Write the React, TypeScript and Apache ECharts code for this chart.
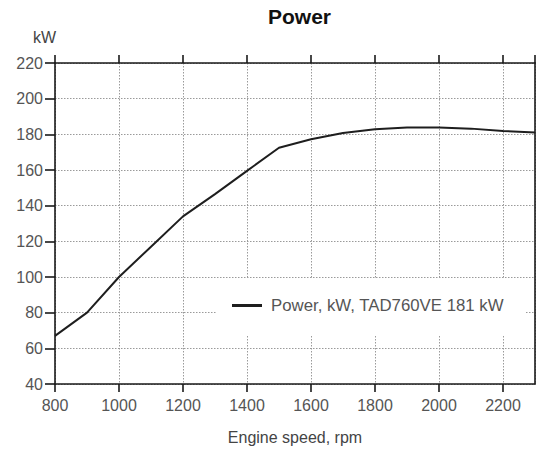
import React, { useEffect, useRef } from "react";
import * as echarts from "echarts";

const rpm = [800, 900, 1000, 1100, 1200, 1300, 1400, 1500, 1600, 1700, 1800, 1900, 2000, 2100, 2200, 2300];
const powerKw = [67, 80, 100, 117, 134, 146.5, 159.5, 172.5, 177.2, 180.8, 182.8, 183.9, 183.9, 183.2, 181.9, 181];
const seriesName = "Power, kW, TAD760VE 181 kW";
const titleText = "Power";
const xName = "Engine speed, rpm";
const yName = "kW";

const FONT = '"Liberation Sans", Arial, sans-serif';

export default function App() {
  const ref = useRef<HTMLDivElement>(null);
  useEffect(() => {
    if (!ref.current) return;
    const chart = echarts.init(ref.current, null, { renderer: "svg" });
    const axisLineStyle = { color: "#1a1a1a", width: 1.6 };
    const gridLine = { show: true, lineStyle: { color: "#9a9a9a", type: [1.5, 1.5] as any, width: 1 } };
    chart.setOption({
      animation: false,
      backgroundColor: "#ffffff",
      textStyle: { fontFamily: FONT },
      title: {
        text: titleText,
        left: 294.5,
        top: 1,
        textAlign: "center",
        textStyle: { fontFamily: FONT, fontSize: 21, fontWeight: "bold", color: "#111" },
      },
      grid: { left: 55, right: 1, top: 63, bottom: 68, containLabel: false },
      legend: {
        show: true,
        left: 217,
        top: 278,
        padding: [19, 22, 22, 15],
        backgroundColor: "#ffffff",
        itemWidth: 30,
        itemHeight: 3,
        data: [{ name: seriesName, icon: "rect" }],
        textStyle: { fontFamily: FONT, fontSize: 16.8, color: "#555", padding: [0, 0, 0, 4] },
        z: 10,
      },
      xAxis: [
        {
          type: "value",
          position: "bottom",
          min: 800,
          max: 2300,
          interval: 200,
          name: xName,
          nameLocation: "middle",
          nameGap: 45,
          nameTextStyle: { fontFamily: FONT, fontSize: 16, color: "#444" },
          axisLine: { show: true, onZero: false, lineStyle: axisLineStyle },
          axisTick: { show: true, length: 8, lineStyle: axisLineStyle },
          axisLabel: {
            show: true,
            margin: 13,
            fontFamily: FONT,
            fontSize: 16,
            color: "#555",
            showMaxLabel: false,
            formatter: (v: number) => String(v),
          },
          splitLine: gridLine,
        },
        {
          type: "value",
          position: "top",
          min: 800,
          max: 2300,
          interval: 200,
          axisLine: { show: true, onZero: false, lineStyle: axisLineStyle },
          axisTick: { show: true, length: 8, lineStyle: axisLineStyle },
          axisLabel: { show: false },
          splitLine: { show: false },
        },
      ],
      yAxis: [
        {
          type: "value",
          position: "left",
          min: 40,
          max: 220,
          interval: 20,
          name: yName,
          nameLocation: "end",
          nameGap: 18,
          nameTextStyle: { fontFamily: FONT, fontSize: 16, color: "#444", align: "center", padding: [0, 21, 0, 0] },
          axisLine: { show: true, onZero: false, lineStyle: axisLineStyle },
          axisTick: { show: true, length: 10, lineStyle: axisLineStyle },
          axisLabel: { show: true, margin: 12, fontFamily: FONT, fontSize: 16, color: "#555", formatter: (v: number) => String(v) },
          splitLine: gridLine,
        },
        {
          type: "value",
          position: "right",
          min: 40,
          max: 220,
          interval: 20,
          axisLine: { show: true, onZero: false, lineStyle: axisLineStyle },
          axisTick: { show: false },
          axisLabel: { show: false },
          splitLine: { show: false },
        },
      ],
      series: [
        {
          type: "line",
          name: seriesName,
          data: rpm.map((r, i) => [r, powerKw[i]]),
          xAxisIndex: 0,
          yAxisIndex: 0,
          symbol: "none",
          color: "#1e1e1e",
          lineStyle: { color: "#1e1e1e", width: 2 },
          z: 3,
        },
      ],
    });
    return () => chart.dispose();
  }, []);
  return <div ref={ref} style={{ position: "fixed", left: 0, top: 0, width: 536, height: 452 }} />;
}
